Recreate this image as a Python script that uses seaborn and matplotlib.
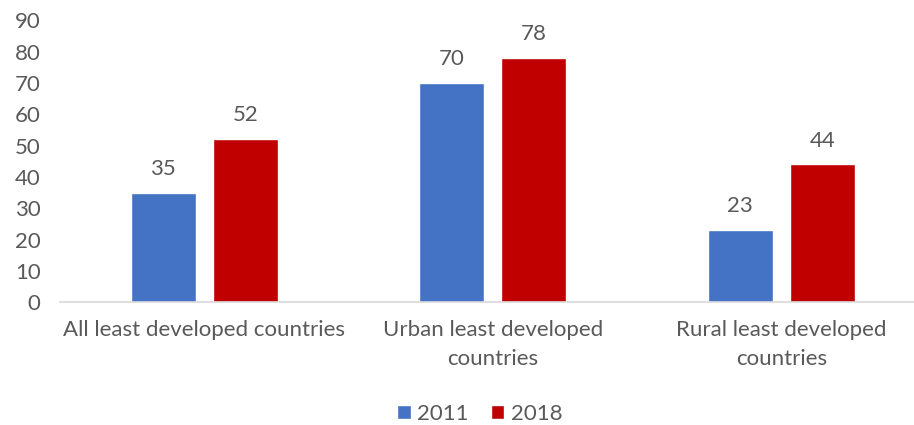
import matplotlib
matplotlib.use("Agg")
import matplotlib.pyplot as plt
import seaborn as sns
import pandas as pd

categories = ["All least developed countries",
              "Urban least developed\ncountries",
              "Rural least developed\ncountries"]
years = ["2011", "2018"]
values_2011 = [35, 70, 23]
values_2018 = [52, 78, 44]
colors = ["#4472C4", "#C00000"]

df = pd.DataFrame({
    "category": categories * 2,
    "year": [years[0]] * 3 + [years[1]] * 3,
    "value": values_2011 + values_2018,
})

sns.set_theme(style="white")
plt.rcParams["font.family"] = ["Lato", "DejaVu Sans"]
text_color = "#595959"
fs = 16

fig = plt.figure(figsize=(9.14, 4.25), dpi=100)
ax = fig.add_axes([60 / 914, 0.289, (914 - 60) / 914, 0.663])

sns.barplot(data=df, x="category", y="value", hue="year",
            palette=colors, width=0.568, gap=0.208, ax=ax,
            saturation=1, legend=True)

for container in ax.containers:
    ax.bar_label(container, fmt="%d", padding=10, fontsize=fs, color=text_color)

ax.set_ylim(0, 90)
ax.set_xlim(-0.5, 2.46)
ax.set_yticks(range(0, 91, 10))
ax.set_xlabel("")
ax.set_ylabel("")
ax.tick_params(axis="both", length=0, labelsize=fs, colors=text_color)
ax.tick_params(axis="x", pad=13)
ax.tick_params(axis="y", pad=14)
for lbl in ax.get_xticklabels():
    lbl.set_linespacing(1.55)

for side in ["left", "right", "top"]:
    ax.spines[side].set_visible(False)
ax.spines["bottom"].set_color("#D9D9D9")
ax.spines["bottom"].set_linewidth(1.2)

handles, labels = ax.get_legend_handles_labels()
ax.legend_.remove()
fig.legend(handles, labels, loc="center", bbox_to_anchor=(480 / 914, 1 - 414 / 425),
           ncol=2, frameon=False, fontsize=fs, labelcolor=text_color,
           handlelength=0.6, handleheight=0.6, handletextpad=0.3, columnspacing=1.0)

fig.savefig("out.png", dpi=100)
